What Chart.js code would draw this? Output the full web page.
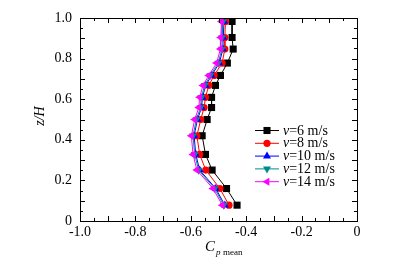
<!DOCTYPE html>
<html>
<head>
<meta charset="utf-8">
<script src="https://cdn.jsdelivr.net/npm/chart.js@4/dist/chart.umd.min.js"></script>
<style>
html,body{margin:0;padding:0;background:#fff;}
canvas{display:block;}
</style>
</head>
<body>
<canvas id="c" width="396" height="270"></canvas>
<script>
const zLevels = [0.983,0.904,0.847,0.778,0.717,0.668,0.609,0.559,0.500,0.420,0.328,0.251,0.160,0.078];
const cp6  = [-0.451,-0.451,-0.447,-0.468,-0.493,-0.511,-0.525,-0.525,-0.541,-0.559,-0.547,-0.523,-0.471,-0.433];
const cp8  = [-0.475,-0.477,-0.477,-0.487,-0.516,-0.535,-0.547,-0.552,-0.564,-0.578,-0.568,-0.546,-0.495,-0.462];
const cp10 = [-0.480,-0.483,-0.484,-0.497,-0.525,-0.546,-0.558,-0.561,-0.576,-0.588,-0.582,-0.568,-0.510,-0.477];
const cp12 = [-0.484,-0.487,-0.488,-0.501,-0.530,-0.550,-0.562,-0.565,-0.580,-0.592,-0.586,-0.572,-0.514,-0.481];
const cp14 = [-0.489,-0.492,-0.493,-0.507,-0.535,-0.556,-0.568,-0.571,-0.586,-0.598,-0.592,-0.578,-0.520,-0.486];
const speeds = ['6','8','10','12','14'];
const seriesValues = [cp6, cp8, cp10, cp12, cp14];
const colors = ['#000000','#ff0000','#0000ff','#008b8b','#ff00ff'];
const styles = [
  {pointStyle:'rect', radius:5, rotation:0},
  {pointStyle:'circle', radius:3.6, rotation:0},
  {pointStyle:'triangle', radius:4.6, rotation:0},
  {pointStyle:'triangle', radius:4.6, rotation:180},
  {pointStyle:'triangle', radius:4.6, rotation:-90}
];
const FONT = '"Liberation Serif", "DejaVu Serif", serif';

const datasets = seriesValues.map((vals, i) => ({
  label: 'v=' + speeds[i] + ' m/s',
  data: zLevels.map((z, k) => ({x: vals[k], y: z})),
  showLine: true,
  borderColor: colors[i],
  backgroundColor: colors[i],
  borderWidth: 1,
  pointStyle: styles[i].pointStyle,
  pointRadius: styles[i].radius,
  pointRotation: styles[i].rotation,
  pointBorderWidth: 0,
  pointBackgroundColor: colors[i],
  order: 5 - i
}));

function isMult(v, step) {
  const q = v / step;
  return Math.abs(q - Math.round(q)) < 1e-6;
}

const decorPlugin = {
  id: 'decor',
  afterDraw(chart) {
    const ctx = chart.ctx;
    const a = chart.chartArea;
    ctx.save();
    ctx.strokeStyle = '#000';
    ctx.lineWidth = 1;
    ctx.strokeRect(a.left + 0.5, a.top + 0.5, a.right - a.left, a.bottom - a.top);
    const xs = chart.scales.x, ys = chart.scales.y;
    ctx.beginPath();
    xs.ticks.forEach(t => {
      const p = Math.round(xs.getPixelForValue(t.value)) + 0.5;
      const len = isMult(t.value, 0.1) ? 5 : 3;
      ctx.moveTo(p, a.bottom); ctx.lineTo(p, a.bottom - len);
      ctx.moveTo(p, a.top); ctx.lineTo(p, a.top + len);
    });
    ys.ticks.forEach(t => {
      const p = Math.round(ys.getPixelForValue(t.value)) + 0.5;
      const len = isMult(t.value, 0.1) ? 5 : 3;
      ctx.moveTo(a.left, p); ctx.lineTo(a.left + len, p);
      ctx.moveTo(a.right, p); ctx.lineTo(a.right - len, p);
    });
    ctx.stroke();

    // axis titles
    ctx.fillStyle = '#000';
    ctx.textBaseline = 'alphabetic';
    ctx.textAlign = 'left';
    ctx.font = 'italic 15px ' + FONT;
    ctx.fillText('C', 205, 251);
    ctx.font = 'italic 9px ' + FONT;
    ctx.fillText('p', 216, 255);
    ctx.font = '9px ' + FONT;
    ctx.fillText('mean', 223, 255);

    ctx.save();
    ctx.translate(44, 116);
    ctx.rotate(-Math.PI / 2);
    ctx.font = 'italic 14px ' + FONT;
    ctx.textAlign = 'center';
    ctx.fillText('z/H', 0, 0);
    ctx.restore();

    // legend
    const lx0 = 255, lx1 = 279, lm = 267, tx = 283;
    chart.data.datasets.forEach((ds, i) => {
      const y = 130 + i * 12.8;
      ctx.strokeStyle = ds.borderColor;
      ctx.lineWidth = 1;
      ctx.beginPath();
      ctx.moveTo(lx0, y + 0.5); ctx.lineTo(lx1, y + 0.5);
      ctx.stroke();
      ctx.fillStyle = ds.backgroundColor;
      Chart.helpers.drawPoint(ctx, {pointStyle: ds.pointStyle, radius: ds.pointRadius, rotation: ds.pointRotation, borderWidth: 0}, lm, y + 0.5);
      ctx.fillStyle = '#000';
      ctx.textBaseline = 'middle';
      ctx.font = 'italic 14px ' + FONT;
      ctx.fillText('v', tx, y + 1);
      const w = ctx.measureText('v').width;
      ctx.font = '14px ' + FONT;
      ctx.fillText(ds.label.slice(1), tx + w, y + 1);
    });
    ctx.restore();
  }
};

new Chart(document.getElementById('c'), {
  type: 'scatter',
  data: { datasets },
  options: {
    responsive: false,
    devicePixelRatio: 1,
    animation: false,
    layout: { padding: { top: 18, right: 39, left: 0, bottom: 0 } },
    plugins: { legend: { display: false }, tooltip: { enabled: false } },
    scales: {
      x: {
        type: 'linear', min: -1, max: 0,
        afterFit: s => { s.height = 49; },
        grid: { display: false, drawTicks: false, tickLength: 0 }, border: { display: false },
        ticks: {
          stepSize: 0.05, autoSkip: false, maxRotation: 0, padding: 3,
          color: '#000', font: { family: FONT, size: 14 },
          callback: v => isMult(v, 0.2) ? (Math.abs(v) < 1e-9 ? '0' : v.toFixed(1)) : ''
        }
      },
      y: {
        type: 'linear', min: 0, max: 1,
        afterFit: s => { s.width = 80; },
        grid: { display: false, drawTicks: false, tickLength: 0 }, border: { display: false },
        ticks: {
          stepSize: 0.05, autoSkip: false, padding: 8,
          color: '#000', font: { family: FONT, size: 14 },
          callback: v => isMult(v, 0.2) ? (Math.abs(v) < 1e-9 ? '0' : v.toFixed(1)) : ''
        }
      }
    }
  },
  plugins: [decorPlugin]
});
</script>
</body>
</html>
